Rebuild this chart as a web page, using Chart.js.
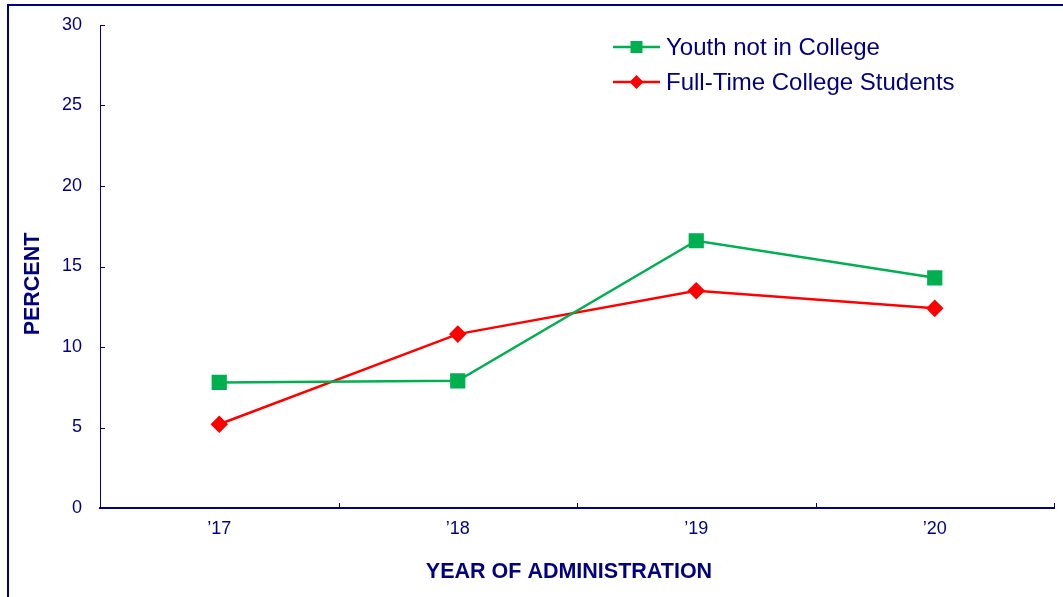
<!DOCTYPE html>
<html>
<head>
<meta charset="utf-8">
<script src="https://cdn.jsdelivr.net/npm/chart.js@4/dist/chart.umd.min.js"></script>
<style>
  html, body { margin: 0; padding: 0; background: #fff; overflow: hidden; }
  #wrap { position: relative; width: 1063px; height: 597px; }
  #frame { position: absolute; left: 7px; top: 4px; width: 1100px; height: 700px;
           border-left: 2.5px solid #000080; border-top: 2.5px solid #000080; }
  canvas { position: absolute; left: 0; top: 0; }
</style>
</head>
<body>
<div id="wrap">
  <div id="frame"></div>
  <canvas id="chart" width="1063" height="597"></canvas>
</div>
<script>
// Data
const years = ['\u201917', '\u201918', '\u201919', '\u201920'];
const youthNotInCollege = [7.8, 7.9, 16.6, 14.3];
const fullTimeStudents = [5.2, 10.8, 13.5, 12.4];
const yTicks = [0, 5, 10, 15, 20, 25, 30];

const navy = '#000080';
const green = '#00B050';
const red = '#FF0000';
const font = "'Liberation Sans', Arial, sans-serif";

// Inward tick marks, axis titles and the legend box
const extras = {
    id: 'extras',
    afterDatasetsDraw(chart) {
        const ctx = chart.ctx;
        const area = chart.chartArea;
        const x = chart.scales.x;
        const y = chart.scales.y;
        ctx.save();

        // y ticks pointing right
        ctx.strokeStyle = navy;
        ctx.lineWidth = 1;
        yTicks.forEach(v => {
            const py = Math.round(y.getPixelForValue(v)) + 0.5;
            ctx.beginPath();
            ctx.moveTo(area.left, py);
            ctx.lineTo(area.left + 5, py);
            ctx.stroke();
        });

        // x ticks at category boundaries pointing up
        for (let i = 1; i <= years.length; i++) {
            let px;
            if (i < years.length) {
                px = (x.getPixelForValue(i - 1) + x.getPixelForValue(i)) / 2;
            } else {
                px = area.right - 0.5;
            }
            px = Math.round(px) + 0.5;
            ctx.beginPath();
            ctx.moveTo(px, area.bottom);
            ctx.lineTo(px, area.bottom - 5);
            ctx.stroke();
        }

        // axis titles
        ctx.fillStyle = navy;
        ctx.font = 'bold 21.5px ' + font;
        ctx.textAlign = 'center';
        ctx.textBaseline = 'middle';
        ctx.fillText('YEAR OF ADMINISTRATION', 569, 572);
        ctx.save();
        ctx.translate(33, 284);
        ctx.rotate(-Math.PI / 2);
        ctx.fillText('PERCENT', 0, 0);
        ctx.restore();

        // legend
        const rows = [47, 82];
        chart.data.datasets.forEach((ds, i) => {
            const ly = rows[i];
            ctx.strokeStyle = ds.borderColor;
            ctx.lineWidth = 2.5;
            ctx.beginPath();
            ctx.moveTo(613, ly);
            ctx.lineTo(660, ly);
            ctx.stroke();
            ctx.fillStyle = ds.backgroundColor;
            ctx.beginPath();
            if (ds.pointStyle === 'rect') {
                ctx.rect(630.5, ly - 6, 12, 12);
            } else {
                ctx.moveTo(636.5, ly - 7);
                ctx.lineTo(643.5, ly);
                ctx.lineTo(636.5, ly + 7);
                ctx.lineTo(629.5, ly);
                ctx.closePath();
            }
            ctx.fill();
            ctx.fillStyle = navy;
            ctx.font = '24px ' + font;
            ctx.textAlign = 'left';
            ctx.textBaseline = 'middle';
            ctx.fillText(ds.label, 666, ly + 1);
        });

        ctx.restore();
    }
};

new Chart(document.getElementById('chart'), {
    type: 'line',
    data: {
        labels: years,
        datasets: [
            {
                label: 'Youth not in College',
                data: youthNotInCollege,
                borderColor: green,
                backgroundColor: green,
                borderWidth: 2.5,
                pointStyle: 'rect',
                pointRadius: 9,
                pointHoverRadius: 9,
                tension: 0
            },
            {
                label: 'Full-Time College Students',
                data: fullTimeStudents,
                borderColor: red,
                backgroundColor: red,
                borderWidth: 2.5,
                pointStyle: 'rectRot',
                pointRadius: 7,
                pointHoverRadius: 7,
                tension: 0
            }
        ]
    },
    options: {
        responsive: false,
        animation: false,
        events: [],
        layout: { autoPadding: false, padding: { top: 25, right: 9, left: 0, bottom: 0 } },
        plugins: {
            legend: { display: false },
            tooltip: { enabled: false }
        },
        scales: {
            x: {
                offset: true,
                grid: { display: false, drawTicks: false },
                border: { display: true, color: navy, width: 2 },
                ticks: {
                    color: navy,
                    font: { family: font, size: 18 },
                    padding: 10,
                    maxRotation: 0
                },
                afterFit(scale) {
                    scale.height = 89;
                    scale.paddingLeft = 0;
                    scale.paddingRight = 0;
                }
            },
            y: {
                min: 0,
                max: 30,
                grid: { display: false, drawTicks: false },
                border: { display: true, color: navy, width: 1 },
                ticks: {
                    stepSize: 5,
                    color: navy,
                    font: { family: font, size: 18 },
                    padding: 18
                },
                afterFit(scale) {
                    scale.width = 100;
                    scale.paddingTop = 0;
                    scale.paddingBottom = 0;
                }
            }
        }
    },
    plugins: [extras]
});
</script>
</body>
</html>
